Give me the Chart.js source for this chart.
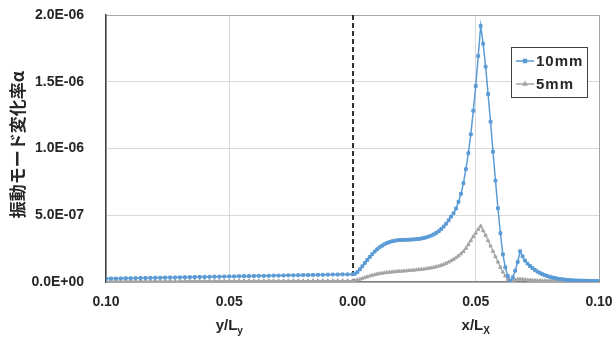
<!DOCTYPE html>
<html>
<head>
<meta charset="utf-8">
<script src="https://cdn.jsdelivr.net/npm/chart.js@4/dist/chart.umd.min.js"></script>
<style>
  html, body { margin: 0; padding: 0; background: #fff; }
</style>
</head>
<body>
<canvas id="myChart" width="613" height="340"></canvas>
<script>
// values are in units of 1e-6
var unit = 1e-6;
var seriesNames = ['10mm', '5mm'];
var yTitle = '振動モード変化率α';
var xTicks = [-0.1, -0.05, 0, 0.05, 0.1];
var yTicks = [0, 0.5, 1.0, 1.5, 2.0];

// left half: y/Ly from 0.100 down to 0.002 (step 0.002), plotted as negative x
var leftStep = 0.002;
var blueLeft = [
  0.025,0.026,0.026,0.027,0.028,0.028,0.029,0.030,0.030,0.031,
  0.032,0.032,0.033,0.034,0.034,0.035,0.036,0.036,0.037,0.038,
  0.038,0.039,0.040,0.040,0.041,0.042,0.042,0.043,0.044,0.044,
  0.045,0.046,0.046,0.047,0.048,0.048,0.049,0.050,0.050,0.051,
  0.052,0.052,0.053,0.054,0.054,0.055,0.056,0.056,0.057,0.057
];
var grayLeft = [
  0.006,0.006,0.006,0.006,0.006,0.006,0.006,0.007,0.007,0.007,
  0.007,0.007,0.007,0.007,0.007,0.007,0.008,0.008,0.008,0.008,
  0.008,0.008,0.008,0.008,0.008,0.008,0.008,0.009,0.009,0.009,
  0.009,0.009,0.009,0.009,0.009,0.009,0.009,0.009,0.010,0.010,
  0.010,0.010,0.010,0.010,0.010,0.010,0.010,0.010,0.010,0.010
];

// right half: x/Lx from 0.000 to 0.100 (step 0.001)
var rightStep = 0.001;
var blueRight = [
  0.058,0.062,0.075,0.095,0.118,0.142,0.165,0.188,0.208,0.228,
  0.245,0.260,0.272,0.283,0.292,0.299,0.305,0.309,0.312,0.314,
  0.315,0.316,0.316,0.317,0.318,0.319,0.321,0.323,0.326,0.330,
  0.335,0.341,0.348,0.357,0.368,0.381,0.397,0.415,0.437,0.462,
  0.490,0.515,0.550,0.600,0.660,0.740,0.845,0.965,1.106,1.283,
  1.468,1.693,1.918,1.785,1.613,1.408,1.201,0.976,0.760,0.552,
  0.365,0.207,0.110,0.045,0.008,0.035,0.085,0.150,0.230,0.192,
  0.160,0.138,0.120,0.104,0.090,0.078,0.068,0.059,0.051,0.045,
  0.039,0.034,0.030,0.026,0.023,0.020,0.018,0.016,0.014,0.013,
  0.012,0.011,0.010,0.010,0.009,0.009,0.008,0.008,0.008,0.007,
  0.007
];
var grayRight = [
  0.010,0.012,0.016,0.021,0.027,0.033,0.039,0.045,0.050,0.055,
  0.059,0.063,0.066,0.069,0.071,0.073,0.075,0.077,0.078,0.080,
  0.081,0.083,0.084,0.086,0.087,0.089,0.091,0.093,0.095,0.097,
  0.100,0.103,0.106,0.110,0.114,0.119,0.125,0.132,0.140,0.149,
  0.159,0.170,0.182,0.196,0.211,0.228,0.252,0.280,0.310,0.340,
  0.367,0.395,0.420,0.385,0.350,0.310,0.270,0.230,0.190,0.150,
  0.110,0.075,0.045,0.020,0.005,0.010,0.016,0.020,0.022,0.020,
  0.018,0.016,0.014,0.013,0.012,0.011,0.010,0.009,0.009,0.008,
  0.008,0.007,0.007,0.007,0.006,0.006,0.006,0.006,0.005,0.005,
  0.005,0.005,0.005,0.005,0.005,0.005,0.005,0.005,0.005,0.005,
  0.005
];

var blueColor = '#5b9bd5';
var grayColor = '#a5a5a5';
var textColor = '#262626';
var fontFam = '"Liberation Sans", Arial, sans-serif';

function toPoints(left, right) {
  var pts = [];
  for (let i = 0; i < left.length; i++) {
    pts.push({x: -0.1 + i * leftStep, y: left[i]});
  }
  for (let i = 0; i < right.length; i++) {
    pts.push({x: i * rightStep, y: right[i]});
  }
  return pts;
}

function sciLabel(v) {
  var s = (v * unit).toExponential(1).toUpperCase();
  var parts = s.split('E');
  var sign = parts[1][0];
  var num = parts[1].slice(1);
  if (num.length < 2) num = '0' + num;
  return parts[0] + 'E' + sign + num;
}

const extras = {
  id: 'extras',
  beforeDatasetsDraw(chart) {
    const c = chart.ctx, xs = chart.scales.x, a = chart.chartArea;
    const x0 = Math.round(xs.getPixelForValue(0));
    c.save();
    c.strokeStyle = '#333';
    c.lineWidth = 2;
    c.setLineDash([5, 3]);
    c.beginPath();
    c.moveTo(x0, a.top);
    c.lineTo(x0, a.bottom);
    c.stroke();
    c.restore();
  },
  afterDraw(chart) {
    const c = chart.ctx, xs = chart.scales.x, a = chart.chartArea;
    c.save();
    // y axis title
    c.fillStyle = textColor;
    c.translate(18, (a.top + a.bottom) / 2 - 4);
    c.rotate(-Math.PI / 2);
    c.font = 'bold 17px "Noto Sans CJK JP", sans-serif';
    c.textAlign = 'center';
    c.textBaseline = 'middle';
    c.fillText(yTitle, 0, 0);
    c.restore();

    c.save();
    c.fillStyle = textColor;
    c.textBaseline = 'alphabetic';
    // axis titles under each half
    var titles = [[-0.05, 'y/L', 'y'], [0.05, 'x/L', 'X']];
    titles.forEach(function (t) {
      c.font = 'bold 15px ' + fontFam;
      var w1 = c.measureText(t[1]).width;
      c.font = 'bold 10px ' + fontFam;
      var w2 = c.measureText(t[2]).width;
      var px = xs.getPixelForValue(t[0]) - (w1 + w2) / 2;
      c.font = 'bold 15px ' + fontFam;
      c.fillText(t[1], px, 330);
      c.font = 'bold 10px ' + fontFam;
      c.fillText(t[2], px + w1, 334);
    });
    // legend box
    c.fillStyle = '#fff';
    c.fillRect(511, 47, 76, 50);
    c.strokeStyle = '#404040';
    c.lineWidth = 1;
    c.strokeRect(511.5, 47.5, 76, 50);
    var items = [[blueColor, 'rect', 61], [grayColor, 'triangle', 84]];
    items.forEach(function (it, i) {
      c.strokeStyle = it[0];
      c.fillStyle = it[0];
      c.lineWidth = 1.5;
      c.beginPath();
      c.moveTo(516, it[2]);
      c.lineTo(534, it[2]);
      c.stroke();
      Chart.helpers.drawPoint(c, {pointStyle: it[1], radius: 2, borderWidth: 1}, 525, it[2]);
      c.fillStyle = textColor;
      c.font = 'bold 15px ' + fontFam;
      c.letterSpacing = '1px';
      c.textBaseline = 'middle';
      c.fillText(seriesNames[i], 536, it[2] + 1);
    });
    c.restore();
  }
};

const canvas = document.getElementById('myChart');
const myChart = new Chart(canvas, {
  type: 'line',
  data: {
    datasets: [
      {
        label: seriesNames[0],
        data: toPoints(blueLeft, blueRight),
        borderColor: blueColor,
        backgroundColor: blueColor,
        borderWidth: 1.5,
        pointStyle: 'rect',
        pointRadius: 2,
        pointBorderWidth: 1,
        tension: 0
      },
      {
        label: seriesNames[1],
        data: toPoints(grayLeft, grayRight),
        borderColor: grayColor,
        backgroundColor: grayColor,
        borderWidth: 1.2,
        pointStyle: 'triangle',
        pointRadius: 2,
        pointBorderWidth: 1,
        tension: 0
      }
    ]
  },
  options: {
    responsive: false,
    animation: false,
    layout: { padding: { top: 15, right: 14, left: 0, bottom: 0 } },
    plugins: { legend: { display: false }, tooltip: { enabled: false } },
    scales: {
      x: {
        type: 'linear',
        min: -0.1,
        max: 0.1,
        afterBuildTicks: function (s) { s.ticks = xTicks.map(function (v) { return {value: v}; }); },
        afterFit: function (s) { s.height = 58; s.paddingLeft = 0; s.paddingRight = 0; },
        grid: {
          drawTicks: false,
          color: function (ctx) {
            if (ctx.tick && ctx.tick.value === 0) return 'rgba(0,0,0,0)';
            if (ctx.tick && ctx.tick.value === 0.1) return '#a6a6a6';
            return '#d9d9d9';
          }
        },
        border: { color: '#808080', width: 1.5 },
        ticks: {
          autoSkip: false,
          maxRotation: 0,
          padding: 12,
          color: textColor,
          font: { family: fontFam, size: 14, weight: 'bold' },
          callback: function (v) { return Math.abs(v).toFixed(2); }
        }
      },
      y: {
        min: 0,
        max: 2,
        afterBuildTicks: function (s) { s.ticks = yTicks.map(function (v) { return {value: v}; }); },
        afterFit: function (s) { s.width = 106; s.paddingTop = 0; s.paddingBottom = 0; },
        grid: {
          drawTicks: false,
          color: function (ctx) {
            if (ctx.tick && ctx.tick.value === 2) return '#a6a6a6';
            return '#d9d9d9';
          }
        },
        border: { color: '#404040', width: 1.5 },
        ticks: {
          autoSkip: false,
          padding: 22,
          color: textColor,
          font: { family: fontFam, size: 14, weight: 'bold' },
          callback: function (v) { return sciLabel(v); }
        }
      }
    }
  },
  plugins: [extras]
});
</script>
</body>
</html>
